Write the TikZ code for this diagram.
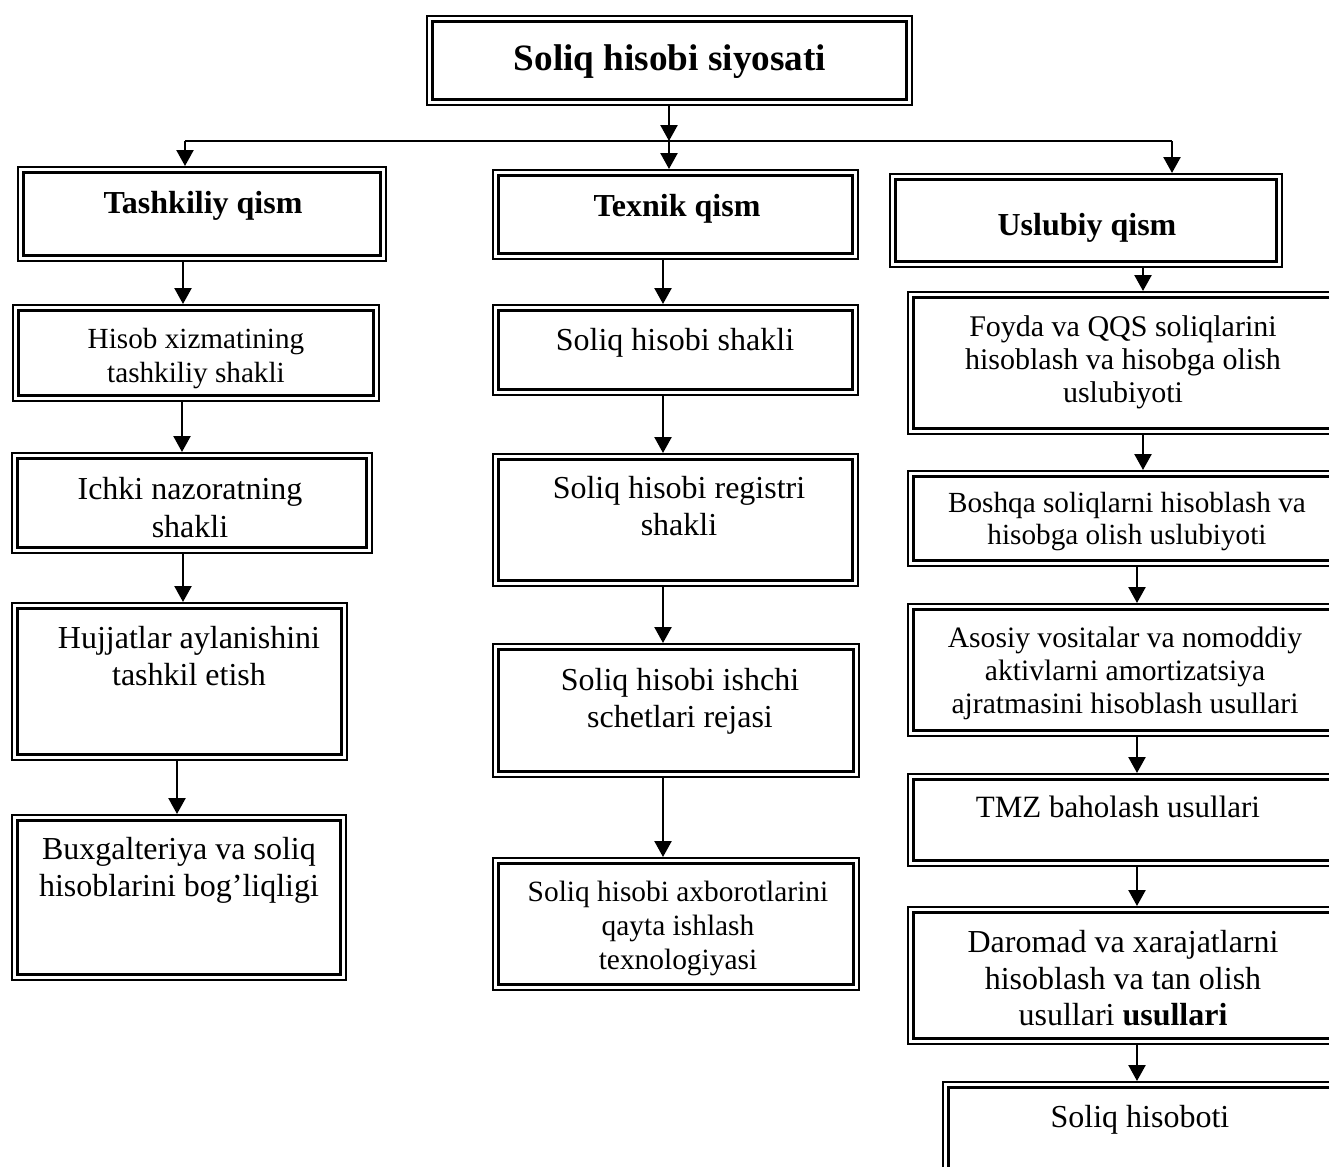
\documentclass[tikz,border=0pt]{standalone}
\usepackage{fontspec}
\setmainfont{Liberation Serif}
\usetikzlibrary{arrows.meta}
\newcommand\fs[2]{\fontsize{#1}{#2}\selectfont}
% box from outer corners (x1,y1)-(x2,y2) in pixel units
\newcommand\mkbox[5]{\node[frame, minimum width={(#4-#2-2)*0.5pt}, minimum height={(#5-#3-2)*0.5pt}] (#1) at ({(#2+#4)/2},{(#3+#5)/2}) {};}
\begin{document}
\begin{tikzpicture}[x=0.5pt,y=-0.5pt,
  frame/.style={draw, line width=1pt, inner sep=0pt, outer sep=0.5pt},
  innerline/.style={line width=1.6pt},
  txt/.style={inner sep=0pt, align=center},
  link/.style={line width=1.2pt},
  arr/.style={line width=1.2pt, -{Triangle[length=8pt,width=8.5pt]}}]
\useasboundingbox (0,0) rectangle (1329,1167);
\fill[white] (0,0) rectangle (1329,1167);
\clip (0,0) rectangle (1329,1167);

% frames
\mkbox{title}{426}{15}{913}{106}
\mkbox{tash}{17}{166}{387}{262}
\mkbox{tex}{492}{169}{859}{260}
\mkbox{usl}{889}{173}{1283}{268}
\mkbox{his}{12}{304}{380}{402}
\mkbox{ich}{11}{452}{373}{554}
\mkbox{huj}{11}{602}{348}{761}
\mkbox{bux}{11}{814}{347}{981}
\mkbox{sh}{492}{304}{859}{396}
\mkbox{reg}{492}{453}{859}{587}
\mkbox{ish}{492}{643}{860}{778}
\mkbox{axb}{492}{857}{860}{991}
\mkbox{foy}{907}{291}{1338}{435}
\mkbox{bos}{907}{470}{1338}{567}
\mkbox{aso}{907}{603}{1338}{737}
\mkbox{tmz}{907}{773}{1338}{867}
\mkbox{dar}{907}{906}{1338}{1045}
\mkbox{hso}{942}{1081}{1338}{1175}
\foreach \n in {title,tash,tex,usl,his,ich,huj,bux,sh,reg,ish,axb,foy,bos,aso,tmz,dar,hso}
  \draw[innerline] ([shift={(3.2pt,-3.2pt)}]\n.north west) rectangle ([shift={(-3.2pt,3.2pt)}]\n.south east);

% texts
\node[txt, font=\bfseries\fs{18.6}{21}, anchor=base] (tTitle) at (670,70) {Soliq hisobi siyosati};
\node[txt, font=\bfseries\fs{16}{18.5}, anchor=base] (tTash) at (203,213) {Tashkiliy qism};
\node[txt, font=\bfseries\fs{16}{18.5}, anchor=base] (tTex) at (677,216) {Texnik qism};
\node[txt, font=\bfseries\fs{16}{18.5}, anchor=base] (tUsl) at (1087,235) {Uslubiy qism};

\node[txt, font=\fs{14.6}{17}, anchor=north] (tHis) at (196,328) {Hisob xizmatining\\tashkiliy shakli};
\node[txt, font=\fs{16}{19}, anchor=north] (tIch) at (190,477) {Ichki nazoratning\\shakli};
\node[txt, font=\fs{16}{18.5}, anchor=north] (tHuj) at (189,626) {Hujjatlar aylanishini\\tashkil etish};
\node[txt, font=\fs{16}{18.5}, anchor=north] (tBux) at (179,837) {Buxgalteriya va soliq\\hisoblarini bog’liqligi};

\node[txt, font=\fs{16}{18.5}, anchor=base] (tSh) at (675,350) {Soliq hisobi shakli};
\node[txt, font=\fs{16}{18.5}, anchor=north] (tReg) at (679,476) {Soliq hisobi registri\\shakli};
\node[txt, font=\fs{16}{18.5}, anchor=north] (tIsh) at (680,668) {Soliq hisobi ishchi\\schetlari rejasi};
\node[txt, font=\fs{14.7}{16.8}, anchor=north] (tAxb) at (678,881) {Soliq hisobi axborotlarini\\qayta ishlash\\texnologiyasi};

\node[txt, font=\fs{15}{16.5}, anchor=north] (tFoy) at (1123,315) {Foyda va QQS soliqlarini\\hisoblash va hisobga olish\\uslubiyoti};
\node[txt, font=\fs{14.6}{16}, anchor=north] (tBos) at (1127,492) {Boshqa soliqlarni hisoblash va\\hisobga olish uslubiyoti};
\node[txt, font=\fs{14.8}{16.5}, anchor=north] (tAso) at (1125,627) {Asosiy vositalar va nomoddiy\\aktivlarni amortizatsiya\\ajratmasini hisoblash usullari};
\node[txt, font=\fs{15.5}{18}, anchor=base] (tTmz) at (1118,817) {TMZ baholash usullari};
\node[txt, font=\fs{16}{18.25}, anchor=north] (tDar) at (1123,930) {Daromad va xarajatlarni\\hisoblash va tan olish\\usullari \textbf{usullari}};
\node[txt, font=\fs{16}{18.5}, anchor=base] (tHso) at (1140,1127) {Soliq hisoboti};

% branching from the title
\coordinate (jl) at (185,141);
\coordinate (jc) at (669,141);
\coordinate (jr) at (1172,141);
\draw[link] (jl) -- (jr);
\draw[arr] (title.south -| jc) -- (jc);
\draw[arr] (jc) -- (tex.north -| jc);
\draw[arr] (jl) -- (tash.north -| jl);
\draw[arr] (jr) -- (usl.north -| jr);

% left column
\draw[arr] (183,0 |- tash.south) -- (183,0 |- his.north);
\draw[arr] (182,0 |- his.south) -- (182,0 |- ich.north);
\draw[arr] (183,0 |- ich.south) -- (183,0 |- huj.north);
\draw[arr] (177,0 |- huj.south) -- (177,0 |- bux.north);

% middle column
\draw[arr] (663,0 |- tex.south) -- (663,0 |- sh.north);
\draw[arr] (663,0 |- sh.south) -- (663,0 |- reg.north);
\draw[arr] (663,0 |- reg.south) -- (663,0 |- ish.north);
\draw[arr] (663,0 |- ish.south) -- (663,0 |- axb.north);

% right column
\draw[arr] (1143,0 |- usl.south) -- (1143,0 |- foy.north);
\draw[arr] (1143,0 |- foy.south) -- (1143,0 |- bos.north);
\draw[arr] (1137,0 |- bos.south) -- (1137,0 |- aso.north);
\draw[arr] (1137,0 |- aso.south) -- (1137,0 |- tmz.north);
\draw[arr] (1137,0 |- tmz.south) -- (1137,0 |- dar.north);
\draw[arr] (1137,0 |- dar.south) -- (1137,0 |- hso.north);
\end{tikzpicture}
\end{document}
